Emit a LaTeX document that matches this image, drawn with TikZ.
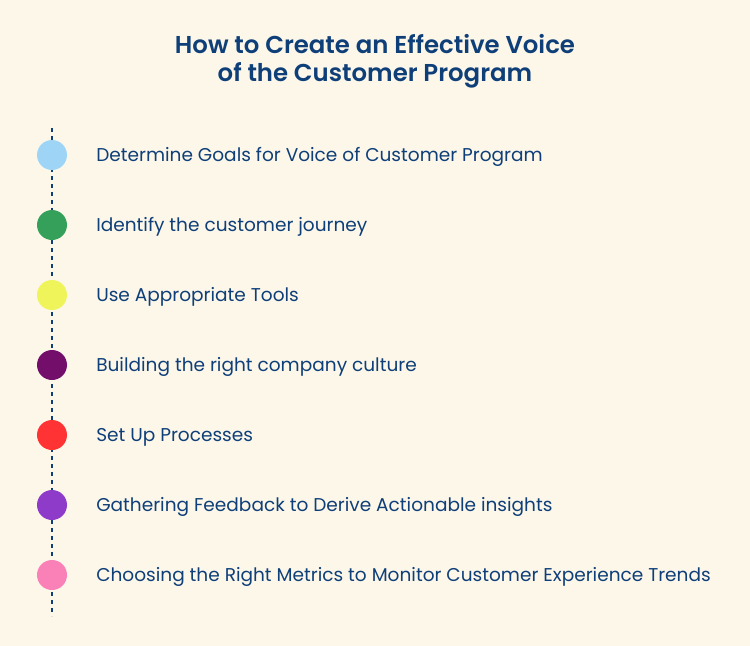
\documentclass[tikz,border=0pt]{standalone}
\usepackage{fontspec}
\setmainfont{Poppins}[BoldFont={Poppins SemiBold}]
\definecolor{bg}{HTML}{FDF7EA}
\definecolor{ink}{HTML}{0E3F78}
\definecolor{c1}{HTML}{9ED5F7}
\definecolor{c2}{HTML}{35A05A}
\definecolor{c3}{HTML}{EEF45A}
\definecolor{c4}{HTML}{730F6B}
\definecolor{c5}{HTML}{FF3333}
\definecolor{c6}{HTML}{8E3BC9}
\definecolor{c7}{HTML}{FA80B8}
\tikzset{
  dot/.style={circle, minimum size=30*0.75pt, inner sep=0pt, fill=#1},
  lbl/.style={anchor=base west, text=ink, font=\fontsize{13.9pt}{16pt}\selectfont, inner sep=0pt},
  vline/.style={draw=ink, line width=1.5pt, dash pattern=on 3pt off 3pt},
}
\begin{document}
\begin{tikzpicture}[x=0.75pt,y=-0.75pt]
\useasboundingbox[fill=bg] (0,0) rectangle (750,646);
\node[text=ink, font=\fontsize{18.3pt}{21pt}\selectfont\bfseries, align=center] (title) at (375,61) {How to Create an Effective Voice\\of the Customer Program};
\coordinate (top) at (52,128);
\coordinate (bot) at (52,616);
\draw[vline] (top) -- (bot);
\foreach \i/\c/\t in {1/c1/Determine Goals for Voice of Customer Program,
  2/c2/Identify the customer journey,
  3/c3/Use Appropriate Tools,
  4/c4/Building the right company culture,
  5/c5/Set Up Processes,
  6/c6/Gathering Feedback to Derive Actionable insights,
  7/c7/Choosing the Right Metrics to Monitor Customer Experience Trends}{
  \node[dot=\c] (d\i) at (52,85+70*\i) {};
  \node[lbl] (t\i) at (96,91+70*\i) {\t};
}
\end{tikzpicture}
\end{document}
